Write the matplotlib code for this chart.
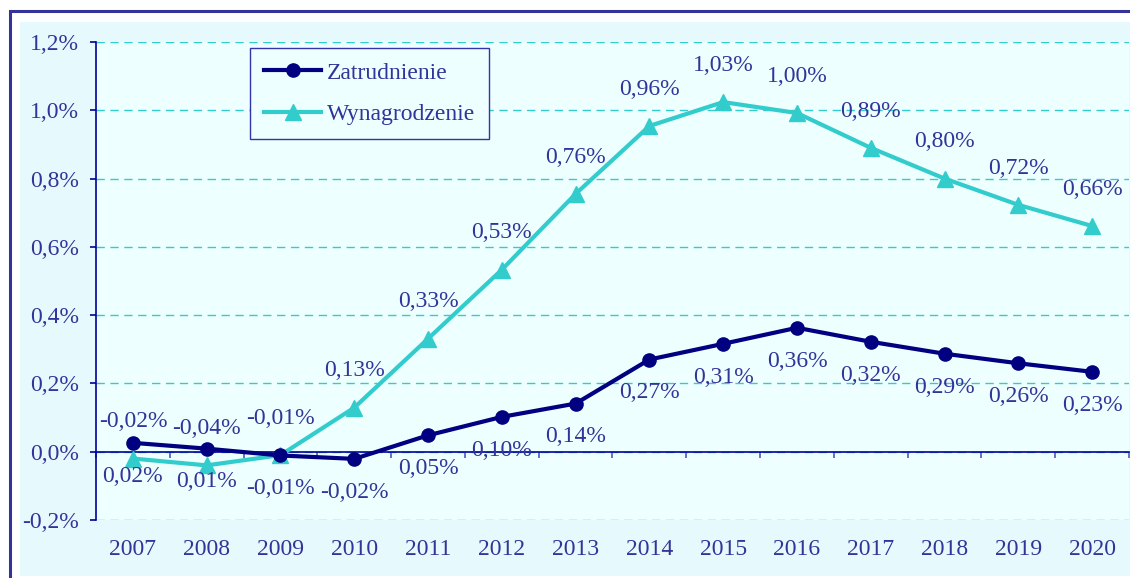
import matplotlib.pyplot as plt
from matplotlib.patches import Rectangle
from matplotlib.ticker import FixedLocator, FuncFormatter

plt.rcParams['font.family'] = ['Liberation Serif', 'DejaVu Serif']

# dane
years = ['2007', '2008', '2009', '2010', '2011', '2012', '2013',
         '2014', '2015', '2016', '2017', '2018', '2019', '2020']
zatrudnienie = [0.026, 0.009, -0.011, -0.021, 0.048, 0.102, 0.141,
                0.270, 0.316, 0.363, 0.322, 0.287, 0.259, 0.234]
wynagrodzenie = [-0.020, -0.040, -0.010, 0.129, 0.331, 0.533, 0.755,
                 0.954, 1.024, 0.992, 0.890, 0.800, 0.723, 0.661]
# etykiety tak jak na oryginale
labels_zatr = ['0,02%', '0,01%', '-0,01%', '-0,02%', '0,05%', '0,10%', '0,14%',
               '0,27%', '0,31%', '0,36%', '0,32%', '0,29%', '0,26%', '0,23%']
labels_wyn = ['-0,02%', '-0,04%', '-0,01%', '0,13%', '0,33%', '0,53%', '0,76%',
              '0,96%', '1,03%', '1,00%', '0,89%', '0,80%', '0,72%', '0,66%']
yticks = [-0.2, 0.0, 0.2, 0.4, 0.6, 0.8, 1.0, 1.2]

navy = '#000080'
cyan = '#33CCCC'
txt = '#333399'
fs = 17

fig = plt.figure(figsize=(11.3, 5.78), dpi=100)
fig.patch.set_facecolor('white')
W, H = 1130, 578
fig.patches.append(Rectangle((20 / W, 2 / H), 1.0, (576 - 22) / H, transform=fig.transFigure,
                             facecolor='#E6FAFD', edgecolor='none', zorder=0))
fig.patches.append(Rectangle((9.5 / W, -0.1), 1.2, 1.1 - 11.5 / H, transform=fig.transFigure,
                             facecolor='none', edgecolor='#333399', linewidth=2.2, zorder=1))

ax = fig.add_axes([96 / W, 1 - 520 / H, (1129 - 96) / W, (520 - 42) / H])
ax.set_zorder(3)
ax.set_facecolor('#EEFFFF')

x = list(range(len(years)))
ax.plot(x, zatrudnienie, color=navy, marker='o', markersize=9.5, linewidth=3,
        label='Zatrudnienie', zorder=4)
ax.plot(x, wynagrodzenie, color=cyan, marker='^', markersize=11, linewidth=3,
        label='Wynagrodzenie', zorder=3)

for i in x:
    ax.annotate(labels_wyn[i], (i, wynagrodzenie[i]), xytext=(0, 26.5), textcoords='offset points',
                ha='center', va='center', fontsize=fs, color=txt, zorder=6)
    ax.annotate(labels_zatr[i], (i, zatrudnienie[i]), xytext=(0, -24), textcoords='offset points',
                ha='center', va='center', fontsize=fs, color=txt, zorder=6)

ax.set_xlim(-0.5, len(years) - 0.5)
ax.set_ylim(-0.2, 1.2)
ax.set_yticks(yticks)
ax.yaxis.set_major_formatter(FuncFormatter(lambda v, p: ('%.1f%%' % v).replace('.', ',')))
ax.yaxis.grid(True, linestyle=(0, (6, 4)), color=cyan, linewidth=1.0)
ax.set_axisbelow(True)

ax.spines['top'].set_visible(False)
ax.spines['right'].set_visible(False)
ax.spines['left'].set_color('#000099')
ax.spines['left'].set_linewidth(1.2)
ax.spines['bottom'].set_position(('data', 0))
ax.spines['bottom'].set_color('#000099')
ax.spines['bottom'].set_linewidth(1.2)

ax.set_xticks(x)
ax.set_xticklabels(years)
ax.xaxis.set_minor_locator(FixedLocator([i + 0.5 for i in range(-1, len(years))]))
ax.tick_params(axis='x', which='major', length=0, pad=63, labelsize=fs, labelcolor=txt)
ax.tick_params(axis='x', which='minor', length=4.5, width=1.2, color='#5555BB', direction='out')
ax.tick_params(axis='y', length=4.5, width=1.2, color='#000099', pad=8, labelsize=fs, labelcolor=txt)

leg = ax.legend(loc='upper left', bbox_to_anchor=((250 - 96) / 1033, (520 - 48) / 478),
                borderaxespad=0, fontsize=fs, frameon=True, fancybox=False,
                handlelength=2.4, handletextpad=0.25, labelspacing=0.85, borderpad=0.6)
leg.get_frame().set_edgecolor('#3333AA')
leg.get_frame().set_facecolor('#EEFFFF')
leg.get_frame().set_linewidth(1.0)
leg.get_frame().set_alpha(1)
for t in leg.get_texts():
    t.set_color(txt)

fig.savefig('out.png', dpi=100, facecolor=fig.get_facecolor())
